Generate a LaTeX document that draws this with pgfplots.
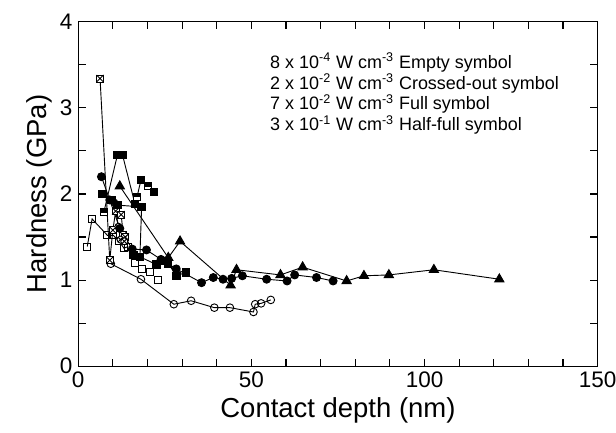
\documentclass[border=0pt]{standalone}
\usepackage{fontspec}
\setmainfont{Liberation Sans}
\usepackage{pgfplots}
\pgfplotsset{compat=1.18}

% square with a cross inside
\pgfdeclareplotmark{xsquare}{%
  \pgfpathrectangle{\pgfpoint{-\pgfplotmarksize}{-\pgfplotmarksize}}{\pgfpoint{2\pgfplotmarksize}{2\pgfplotmarksize}}%
  \pgfusepathqfillstroke
  \pgfpathmoveto{\pgfpoint{-\pgfplotmarksize}{-\pgfplotmarksize}}%
  \pgfpathlineto{\pgfpoint{\pgfplotmarksize}{\pgfplotmarksize}}%
  \pgfpathmoveto{\pgfpoint{-\pgfplotmarksize}{\pgfplotmarksize}}%
  \pgfpathlineto{\pgfpoint{\pgfplotmarksize}{-\pgfplotmarksize}}%
  \pgfusepathqstroke}
% circle with a cross inside
\pgfdeclareplotmark{xcircle}{%
  \pgfpathcircle{\pgfpointorigin}{\pgfplotmarksize}%
  \pgfusepathqfillstroke
  \pgfpathmoveto{\pgfpoint{-0.707\pgfplotmarksize}{-0.707\pgfplotmarksize}}%
  \pgfpathlineto{\pgfpoint{0.707\pgfplotmarksize}{0.707\pgfplotmarksize}}%
  \pgfpathmoveto{\pgfpoint{-0.707\pgfplotmarksize}{0.707\pgfplotmarksize}}%
  \pgfpathlineto{\pgfpoint{0.707\pgfplotmarksize}{-0.707\pgfplotmarksize}}%
  \pgfusepathqstroke}
% square, top half filled
\pgfdeclareplotmark{halfsquare}{%
  \pgfpathrectangle{\pgfpoint{-\pgfplotmarksize}{-\pgfplotmarksize}}{\pgfpoint{2\pgfplotmarksize}{2\pgfplotmarksize}}%
  \pgfusepathqfillstroke
  \pgfpathrectangle{\pgfpoint{-\pgfplotmarksize}{0pt}}{\pgfpoint{2\pgfplotmarksize}{\pgfplotmarksize}}%
  \pgfsetfillcolor{black}%
  \pgfusepathqfillstroke}

\begin{document}
\begin{tikzpicture}
\begin{axis}[
  scale only axis,
  width=312pt, height=207pt,
  xmin=0, xmax=150, ymin=0, ymax=4,
  xtick={0,50,100,150}, ytick={0,1,2,3,4},
  minor x tick num=4, minor y tick num=1,
  tick align=inside, tick pos=both,
  major tick length=4.5pt, minor tick length=4.5pt,
  every tick/.style={black, line width=0.7pt},
  axis line style={line width=0.8pt},
  /pgf/number format/assume math mode=true,
  tick label style={font=\fontsize{13.5}{15}\selectfont},
  label style={font=\fontsize{16.5}{19}\selectfont},
  xlabel={Contact depth (nm)},
  ylabel={Hardness (GPa)},
  xlabel style={yshift=1pt},
  ylabel style={yshift=-2pt},
  every axis plot/.append style={black, line width=0.55pt},
  clip=false,
]
% empty symbols, 8e-4
\addplot[mark=square, mark size=2.1pt, mark options={fill=white}] coordinates {
  (2.6,1.39) (4.0,1.71) (8.4,1.52) (10.1,1.52) (11.8,1.45) (13.2,1.37) (14.4,1.39)
};
\addplot[only marks, mark=square, mark size=2.1pt, mark options={fill=white}] coordinates {
  (16.4,1.20) (18.3,1.13) (20.7,1.09) (22.9,1.00)
};
\addplot[mark=o, mark size=2.3pt, mark options={fill=white}] coordinates {
  (9.4,1.19) (18.1,1.01) (27.6,0.72) (32.6,0.76) (39.3,0.68) (43.8,0.68)
  (50.6,0.63) (51.1,0.72) (52.8,0.73) (55.6,0.77)
};
% crossed-out symbols, 2e-2
\addplot[mark=xsquare, mark size=2.1pt, mark options={fill=white}] coordinates {
  (6.3,3.34) (9.1,1.23) (10.0,1.58) (10.8,1.80) (12.4,1.76) (13.0,1.52) (13.6,1.50)
};
\addplot[mark=xcircle, mark size=2.1pt, mark options={fill=white}] coordinates {
  (10.4,1.90) (11.6,1.62) (12.2,1.47) (13.3,1.45)
};
% full symbols, 7e-2
\addplot[mark=*, mark size=2.4pt] coordinates {
  (6.7,2.20) (9.1,1.93) (12.0,1.60) (15.6,1.36) (19.7,1.35) (23.9,1.24)
  (28.3,1.13) (35.6,0.97) (39.0,1.03) (41.8,1.01) (44.3,1.02) (47.4,1.05)
  (54.4,1.01) (60.3,0.99) (62.5,1.06) (68.8,1.03) (73.6,0.99)
};
\addplot[mark=square*, mark size=2.2pt] coordinates {
  (7.0,2.00) (9.6,1.93) (11.3,1.87) (18.3,1.85) (17.8,1.27) (22.6,1.18) (24.5,1.22)
  (26.0,1.19) (28.4,1.05) (31.1,1.09)
};
\addplot[only marks, mark=square*, mark size=2.2pt] coordinates {
  (15.9,1.29)
};
\addplot[mark=triangle*, mark size=3.2pt] coordinates {
  (12.0,2.09) (26.0,1.26) (29.4,1.45) (44.0,0.94) (45.7,1.12) (58.4,1.06)
  (64.8,1.15) (77.5,0.99) (82.5,1.05) (89.7,1.06) (102.7,1.12) (121.6,1.01)
};
% half-full symbols, 3e-1
\addplot[mark=halfsquare, mark size=2.1pt, mark options={fill=white}] coordinates {
  (7.4,1.79) (11.3,2.45) (12.8,2.45) (16.4,1.88)
};
\addplot[mark=halfsquare, mark size=2.1pt, mark options={fill=white}] coordinates {
  (17.0,1.97) (18.1,2.16)
};
\addplot[only marks, mark=halfsquare, mark size=2.1pt, mark options={fill=white}] coordinates {
  (20.2,2.09) (21.9,2.02)
};
% text key
\node[anchor=north west, inner sep=0pt, align=left,
      font=\fontsize{10.8}{11.3}\selectfont] at (axis cs:55.3,3.64) {%
  8 x 10\textsuperscript{-4} W cm\textsuperscript{-3} Empty symbol\\
  2 x 10\textsuperscript{-2} W cm\textsuperscript{-3} Crossed-out symbol\\
  7 x 10\textsuperscript{-2} W cm\textsuperscript{-3} Full symbol\\
  3 x 10\textsuperscript{-1} W cm\textsuperscript{-3} Half-full symbol};
\end{axis}
\pgfresetboundingbox
\path ([shift={(-47pt,-40pt)}]current axis.south west) rectangle ([shift={(11pt,13pt)}]current axis.north east);
\end{tikzpicture}
\end{document}
